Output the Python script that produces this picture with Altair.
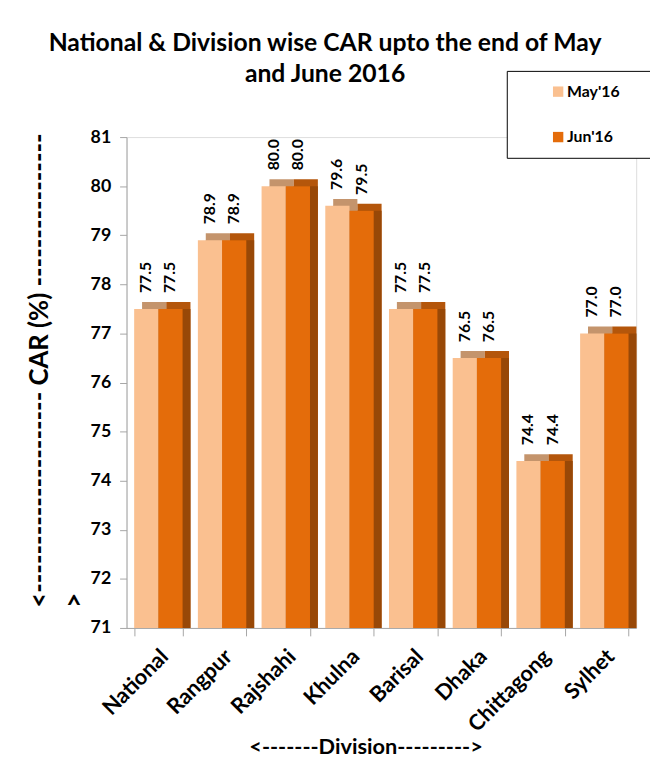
import altair as alt
import pandas as pd

categories = ["National", "Rangpur", "Rajshahi", "Khulna", "Barisal", "Dhaka", "Chittagong", "Sylhet"]
may_values = [77.5, 78.9, 80.0, 79.6, 77.5, 76.5, 74.4, 77.0]
jun_values = [77.5, 78.9, 80.0, 79.5, 77.5, 76.5, 74.4, 77.0]
series = ["May'16", "Jun'16"]
y_ticks = [71, 72, 73, 74, 75, 76, 77, 78, 79, 80, 81]

front_colors = ["#FAC090", "#E46C0A"]
top_colors = ["#C4946C", "#B4560B"]
side_colors = ["#C4946C", "#984807"]

rows = []
for c, m, j in zip(categories, may_values, jun_values):
    rows.append({"Division": c, "Month": series[0], "CAR": m})
    rows.append({"Division": c, "Month": series[1], "CAR": j})
df = pd.DataFrame(rows)

FONT = "Lato"
GRAY = "#A6A6A6"
BLANK = "\u2800"

x_enc = alt.X(
    "Division:N",
    sort=categories,
    scale=alt.Scale(paddingInner=0.24, paddingOuter=0.12),
    axis=alt.Axis(
        labelAngle=-45,
        labelAlign="right",
        labelBaseline="middle",
        labelFont=FONT,
        labelFontSize=22,
        labelFontWeight="bold",
        labelColor="black",
        labelPadding=17,
        labelOffset=6,
        tickBand="extent",
        tickSize=8,
        tickColor=GRAY,
        domainColor=GRAY,
        title="<" + "-" * 7 + "Division" + "-" * 9 + ">",
        titleFont=FONT,
        titleFontSize=22,
        titleFontWeight="bold",
        titleColor="black",
        titleX=242,
        titleY=120,
        titleBaseline="middle",
        titleAlign="center",
    ),
)
xo_front = alt.XOffset("Month:N", sort=series, scale=alt.Scale(paddingInner=0, paddingOuter=0))
xo_back = alt.XOffset("Month:N", sort=series, scale=alt.Scale(domain=series, range=[8, 57]))
y_enc = alt.Y(
    "CAR:Q",
    scale=alt.Scale(domain=[y_ticks[0], y_ticks[-1]], zero=False, nice=False),
    axis=alt.Axis(
        values=y_ticks,
        format="d",
        grid=False,
        labelFont=FONT,
        labelFontSize=18,
        labelFontWeight="bold",
        labelColor="black",
        labelPadding=9,
        tickSize=7,
        tickColor=GRAY,
        domainColor=GRAY,
        title=["<" + "-" * 21 + " CAR (%) " + "-" * 16, ">"],
        titleFont=FONT,
        titleFontSize=26,
        titleFontWeight="bold",
        titleColor="black",
        titleAngle=270,
        titleAlign="left",
        titleBaseline="middle",
        titleLineHeight=35,
        titleX=-88,
        titleY=476,
    ),
)
y2_enc = alt.Y2(datum=y_ticks[0])

base = alt.Chart(df)

back_top = base.mark_bar(yOffset=-7).encode(
    x=x_enc, xOffset=xo_back, y=y_enc, y2=y2_enc,
    color=alt.Color("Month:N", sort=series, scale=alt.Scale(domain=series, range=top_colors), legend=None),
)
back_side = base.mark_bar().encode(
    x=x_enc, xOffset=xo_back, y=y_enc, y2=y2_enc,
    color=alt.Color("Month:N", sort=series, scale=alt.Scale(domain=series, range=side_colors), legend=None),
)
front = base.mark_bar().encode(
    x=x_enc, xOffset=xo_front, y=y_enc, y2=y2_enc,
    color=alt.Color(
        "Month:N",
        sort=series,
        scale=alt.Scale(domain=series, range=front_colors),
        legend=alt.Legend(
            title=None,
            orient="none",
            legendX=385,
            legendY=-67,
            fillColor="white",
            strokeColor="black",
            padding=13,
            symbolOffset=31,
            symbolType="square",
            symbolSize=110,
            symbolStrokeWidth=0,
            labelFont=FONT,
            labelFontSize=16,
            labelFontWeight="bold",
            labelColor="black",
            labelOffset=1,
            rowPadding=30,
            labelExpr="datum.label + '" + BLANK * 2 + "'",
        ),
    ),
)
labels = base.mark_text(
    angle=270, align="left", baseline="middle", yOffset=-16,
    font=FONT, fontSize=16, fontWeight="bold", color="black",
).encode(
    x=x_enc, xOffset=xo_front, y=y_enc,
    text=alt.Text("CAR:Q", format=".1f"),
)

back = alt.layer(back_top, back_side).resolve_scale(color="independent")
fore = alt.layer(front, labels)

chart = (
    alt.layer(back, fore)
    .resolve_scale(color="independent", xOffset="independent")
    .properties(
        width=516,
        height=497,
        title=alt.TitleParams(
            ["National & Division wise CAR upto the end of May", "and June 2016"],
            font=FONT,
            fontSize=25,
            fontWeight="bold",
            color="black",
            anchor="middle",
            dx=-57,
            offset=-17,
            lineHeight=32,
        ),
        autosize=alt.AutoSizeParams(type="none"),
        padding={"left": 120, "top": 126, "right": 14, "bottom": 128},
    )
    .configure_view(stroke=None)
    .configure(background="white")
)

chart.save("out.html", embed_options={"renderer": "svg", "actions": False})
